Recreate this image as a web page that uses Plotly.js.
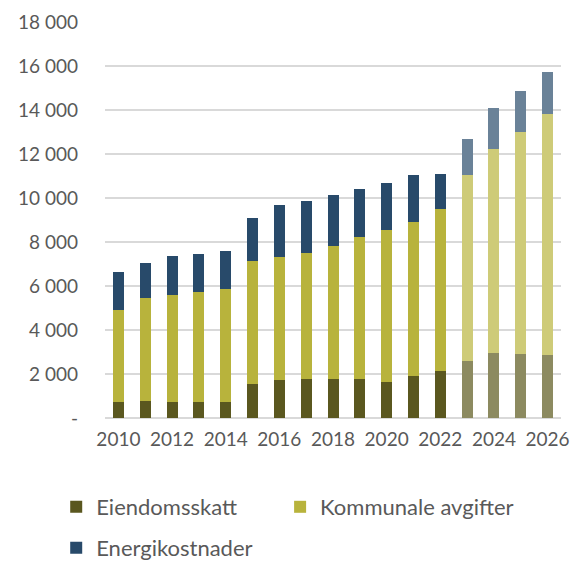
<!DOCTYPE html>
<html>
<head>
<meta charset="utf-8">
<script src="https://cdn.plot.ly/plotly-3.0.1.min.js"></script>
<style>html,body{margin:0;padding:0;background:#fff;}#chart{width:573px;height:562px;}</style>
</head>
<body>
<div id="chart"></div>
<script>
const years = [2010,2011,2012,2013,2014,2015,2016,2017,2018,2019,2020,2021,2022,2023,2024,2025,2026];
const projected = [false,false,false,false,false,false,false,false,false,false,false,false,false,true,true,true,true];
const eiendomsskatt = [730,790,730,730,730,1545,1730,1790,1760,1790,1650,1895,2135,2590,2940,2895,2865];
const kommunaleAvgifter = [4165,4680,4860,5000,5120,5575,5605,5710,6060,6455,6880,7000,7365,8455,9300,10120,10970];
const energikostnader = [1740,1560,1755,1730,1730,1970,2335,2365,2320,2180,2135,2150,1590,1635,1850,1850,1895];
const seriesNames = ['Eiendomsskatt','Kommunale avgifter','Energikostnader'];
const yTickVals = [0,2000,4000,6000,8000,10000,12000,14000,16000,18000];
const yTickText = ['-','2 000','4 000','6 000','8 000','10 000','12 000','14 000','16 000','18 000'];
const xTickVals = [2010,2012,2014,2016,2018,2020,2022,2024,2026];

const baseColors = ['#5a571f','#b8b33c','#284a6a'];
const projColors = ['#8c8a60','#cecb78','#6a8298'];
const legendIds = ['legend','legend2','legend3'];

const seriesData = [eiendomsskatt, kommunaleAvgifter, energikostnader];
const traces = seriesData.map((vals, i) => ({
  type: 'bar',
  name: seriesNames[i],
  x: years,
  y: vals,
  marker: { color: projected.map(p => p ? projColors[i] : baseColors[i]), line: {width: 0} },
  legend: legendIds[i],
  hoverinfo: 'x+y+name'
}));

const font = { family: 'Lato, "Open Sans", sans-serif', size: 19, color: '#595959' };
const legFont = { family: 'Lato, "Open Sans", sans-serif', size: 22, color: '#595959' };

function leg(xPaper, yPx) {
  return {
    orientation: 'h', x: xPaper, xanchor: 'left',
    y: 1 - yPx / 562, yref: 'container', yanchor: 'middle',
    font: legFont, itemclick: false, bgcolor: 'rgba(0,0,0,0)'
  };
}

const layout = {
  width: 573, height: 562,
  margin: { l: 105, r: 12, t: 22, b: 144 },
  barmode: 'stack',
  bargap: 0.59,
  paper_bgcolor: '#fff', plot_bgcolor: '#fff',
  font: font,
  showlegend: true,
  xaxis: {
    range: [2009.5, 2026.5],
    tickvals: xTickVals,
    ticktext: xTickVals.map(String),
    showgrid: false, zeroline: false, showline: false,
    ticks: '', ticklabelstandoff: 8,
    tickfont: font
  },
  yaxis: {
    range: [0, 18000],
    tickvals: yTickVals,
    ticktext: yTickText,
    showgrid: true, gridcolor: '#d9d9d9', gridwidth: 1.5,
    zeroline: true, zerolinecolor: '#d9d9d9', zerolinewidth: 1.5,
    showline: false, ticks: '', ticklabelstandoff: 26,
    tickfont: font
  },
  legend: leg(-0.107, 507),
  legend2: leg(0.384, 507),
  legend3: leg(-0.107, 548)
};

Plotly.newPlot('chart', traces, layout, { displayModeBar: false, staticPlot: true });
</script>
</body>
</html>
